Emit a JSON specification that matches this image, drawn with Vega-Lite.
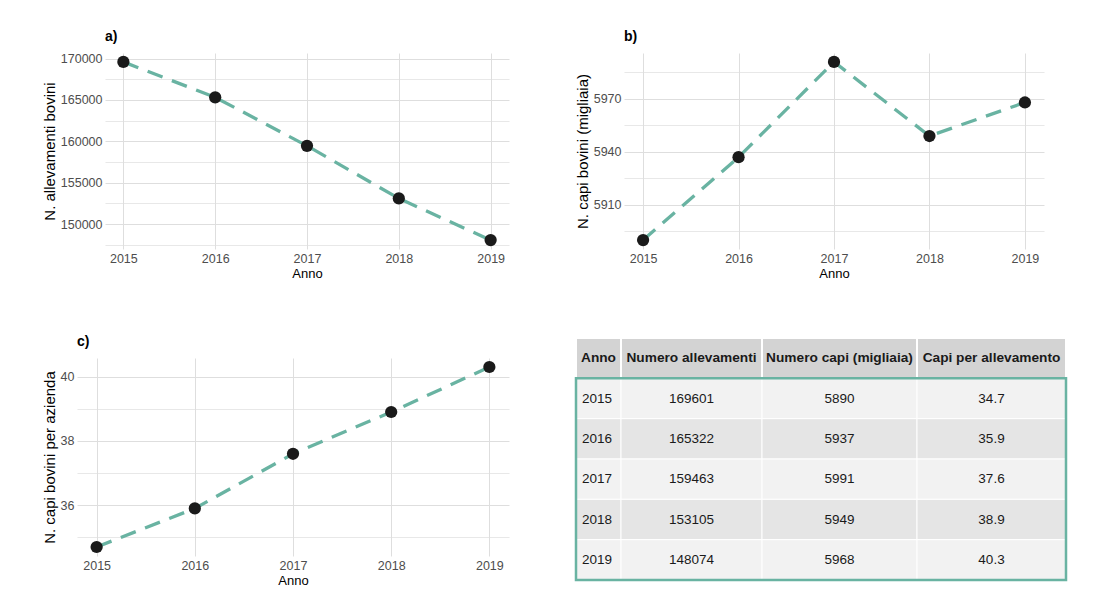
{
  "$schema": "https://vega.github.io/schema/vega-lite/v6.json",
  "background": "white",
  "padding": {"left": 42, "top": 29, "right": 5, "bottom": 5},
  "datasets": {
    "bovini": [
      {"Anno": 2015, "allevamenti": 169601, "capi": 5890, "capi_per_allevamento": 34.7},
      {"Anno": 2016, "allevamenti": 165322, "capi": 5937, "capi_per_allevamento": 35.9},
      {"Anno": 2017, "allevamenti": 159463, "capi": 5991, "capi_per_allevamento": 37.6},
      {"Anno": 2018, "allevamenti": 153105, "capi": 5949, "capi_per_allevamento": 38.9},
      {"Anno": 2019, "allevamenti": 148074, "capi": 5968, "capi_per_allevamento": 40.3}
    ]
  },
  "spacing": 54,
  "vconcat": [
    {
      "spacing": 66,
      "hconcat": [
        {
          "width": 432,
          "height": 196,
          "title": {"text": "a)", "dx": 28},
          "data": {"name": "bovini"},
          "encoding": {
            "x": {"field": "Anno", "type": "quantitative", "scale": {"domain": [2014.8, 2019.2], "range": [28, 432], "nice": false, "zero": false},
              "axis": {"title": "Anno", "values": [2015, 2015.5, 2016, 2016.5, 2017, 2017.5, 2018, 2018.5, 2019], "format": "d", "labelExpr": "datum.value % 1 === 0 ? datum.label : ''", "gridWidth": {"condition": {"test": "datum.value % 1 === 0", "value": 1}, "value": 0.7}}},
            "y": {"field": "allevamenti", "type": "quantitative", "scale": {"domain": [146998, 170677], "nice": false, "zero": false},
              "axis": {"title": "N. allevamenti bovini", "offset": -28, "values": [147500, 150000, 152500, 155000, 157500, 160000, 162500, 165000, 167500, 170000], "format": "d", "labelExpr": "datum.value % 5000 === 0 ? datum.label : ''", "gridWidth": {"condition": {"test": "datum.value % 5000 === 0", "value": 1}, "value": 0.7}}}
          },
          "layer": [
            {"mark": {"type": "line", "color": "#69b3a2", "strokeWidth": 3.3, "strokeDash": [16, 10]}},
            {"mark": {"type": "point", "filled": true, "color": "#1a1a1a", "size": 150, "opacity": 1}}
          ]
        },
        {
          "width": 420,
          "height": 196,
          "title": "b)",
          "data": {"name": "bovini"},
          "encoding": {
            "x": {"field": "Anno", "type": "quantitative", "scale": {"domain": [2014.8, 2019.2], "nice": false, "zero": false},
              "axis": {"title": "Anno", "values": [2015, 2015.5, 2016, 2016.5, 2017, 2017.5, 2018, 2018.5, 2019], "format": "d", "labelExpr": "datum.value % 1 === 0 ? datum.label : ''", "gridWidth": {"condition": {"test": "datum.value % 1 === 0", "value": 1}, "value": 0.7}}},
            "y": {"field": "capi", "type": "quantitative", "scale": {"domain": [5884.95, 5996.05], "nice": false, "zero": false},
              "axis": {"title": "N. capi bovini (migliaia)", "values": [5895, 5910, 5925, 5940, 5955, 5970, 5985], "format": "d", "labelExpr": "(datum.value - 5910) % 30 === 0 ? datum.label : ''", "gridWidth": {"condition": {"test": "(datum.value - 5910) % 30 === 0", "value": 1}, "value": 0.7}}}
          },
          "layer": [
            {"mark": {"type": "line", "color": "#69b3a2", "strokeWidth": 3.3, "strokeDash": [16, 10]}},
            {"mark": {"type": "point", "filled": true, "color": "#1a1a1a", "size": 150, "opacity": 1}}
          ]
        }
      ]
    },
    {
      "spacing": 65,
      "hconcat": [
        {
          "width": 432,
          "height": 198,
          "title": "c)",
          "data": {"name": "bovini"},
          "encoding": {
            "x": {"field": "Anno", "type": "quantitative", "scale": {"domain": [2014.8, 2019.2], "nice": false, "zero": false},
              "axis": {"title": "Anno", "values": [2015, 2015.5, 2016, 2016.5, 2017, 2017.5, 2018, 2018.5, 2019], "format": "d", "labelExpr": "datum.value % 1 === 0 ? datum.label : ''", "gridWidth": {"condition": {"test": "datum.value % 1 === 0", "value": 1}, "value": 0.7}}},
            "y": {"field": "capi_per_allevamento", "type": "quantitative", "scale": {"domain": [34.42, 40.58], "nice": false, "zero": false},
              "axis": {"title": "N. capi bovini per azienda", "values": [35, 36, 37, 38, 39, 40], "format": "d", "labelExpr": "datum.value % 2 === 0 ? datum.label : ''", "gridWidth": {"condition": {"test": "datum.value % 2 === 0", "value": 1}, "value": 0.7}}}
          },
          "layer": [
            {"mark": {"type": "line", "color": "#69b3a2", "strokeWidth": 3.3, "strokeDash": [16, 10]}},
            {"mark": {"type": "point", "filled": true, "color": "#1a1a1a", "size": 150, "opacity": 1}}
          ]
        },
        {
          "width": 490,
          "height": 222,
          "data": {"name": "bovini"},
          "layer": [
            {"transform": [{"filter": "datum.Anno === 2015"}], "mark": {"type": "rect", "fill": "#d3d3d3", "stroke": "white", "strokeWidth": 2},
              "encoding": {"x": {"datum": 0, "type": "quantitative", "scale": {"domain": [0, 1, 2, 3, 4], "range": [0, 45, 186, 341, 490], "nice": false, "zero": false}, "axis": null}, "x2": {"datum": 1},
                "y": {"datum": "header", "type": "ordinal", "scale": {"domain": ["header", 2015, 2016, 2017, 2018, 2019], "range": [-20, 222], "paddingInner": 0, "paddingOuter": 0}, "axis": null}}},
            {"transform": [{"filter": "datum.Anno === 2015"}], "mark": {"type": "rect", "fill": "#d3d3d3", "stroke": "white", "strokeWidth": 2},
              "encoding": {"x": {"datum": 1, "type": "quantitative", "axis": null}, "x2": {"datum": 2}, "y": {"datum": "header", "type": "ordinal", "axis": null}}},
            {"transform": [{"filter": "datum.Anno === 2015"}], "mark": {"type": "rect", "fill": "#d3d3d3", "stroke": "white", "strokeWidth": 2},
              "encoding": {"x": {"datum": 2, "type": "quantitative", "axis": null}, "x2": {"datum": 3}, "y": {"datum": "header", "type": "ordinal", "axis": null}}},
            {"transform": [{"filter": "datum.Anno === 2015"}], "mark": {"type": "rect", "fill": "#d3d3d3", "stroke": "white", "strokeWidth": 2},
              "encoding": {"x": {"datum": 3, "type": "quantitative", "axis": null}, "x2": {"datum": 4}, "y": {"datum": "header", "type": "ordinal", "axis": null}}},
            {"mark": {"type": "rect", "stroke": "white", "strokeWidth": 1},
              "encoding": {"x": {"datum": 0, "type": "quantitative", "axis": null}, "x2": {"datum": 1}, "y": {"field": "Anno", "type": "ordinal", "axis": null},
                "fill": {"condition": {"test": "datum.Anno % 2 === 1", "value": "#f2f2f2"}, "value": "#e5e5e5"}}},
            {"mark": {"type": "rect", "stroke": "white", "strokeWidth": 1},
              "encoding": {"x": {"datum": 1, "type": "quantitative", "axis": null}, "x2": {"datum": 2}, "y": {"field": "Anno", "type": "ordinal", "axis": null},
                "fill": {"condition": {"test": "datum.Anno % 2 === 1", "value": "#f2f2f2"}, "value": "#e5e5e5"}}},
            {"mark": {"type": "rect", "stroke": "white", "strokeWidth": 1},
              "encoding": {"x": {"datum": 2, "type": "quantitative", "axis": null}, "x2": {"datum": 3}, "y": {"field": "Anno", "type": "ordinal", "axis": null},
                "fill": {"condition": {"test": "datum.Anno % 2 === 1", "value": "#f2f2f2"}, "value": "#e5e5e5"}}},
            {"mark": {"type": "rect", "stroke": "white", "strokeWidth": 1},
              "encoding": {"x": {"datum": 3, "type": "quantitative", "axis": null}, "x2": {"datum": 4}, "y": {"field": "Anno", "type": "ordinal", "axis": null},
                "fill": {"condition": {"test": "datum.Anno % 2 === 1", "value": "#f2f2f2"}, "value": "#e5e5e5"}}},
            {"transform": [{"filter": "datum.Anno === 2015"}], "mark": {"type": "text", "text": "Anno", "align": "left", "dx": 5, "fontWeight": "bold", "fontSize": 13.7, "color": "#1a1a1a"},
              "encoding": {"x": {"datum": 0, "type": "quantitative", "axis": null}, "y": {"datum": "header", "type": "ordinal", "axis": null}}},
            {"transform": [{"filter": "datum.Anno === 2015"}], "mark": {"type": "text", "text": "Numero allevamenti", "align": "center", "fontWeight": "bold", "fontSize": 13.7, "color": "#1a1a1a"},
              "encoding": {"x": {"datum": 1.5, "type": "quantitative", "axis": null}, "y": {"datum": "header", "type": "ordinal", "axis": null}}},
            {"transform": [{"filter": "datum.Anno === 2015"}], "mark": {"type": "text", "text": "Numero capi (migliaia)", "align": "center", "fontWeight": "bold", "fontSize": 13.7, "color": "#1a1a1a"},
              "encoding": {"x": {"datum": 2.5, "type": "quantitative", "axis": null}, "y": {"datum": "header", "type": "ordinal", "axis": null}}},
            {"transform": [{"filter": "datum.Anno === 2015"}], "mark": {"type": "text", "text": "Capi per allevamento", "align": "center", "fontWeight": "bold", "fontSize": 13.7, "color": "#1a1a1a"},
              "encoding": {"x": {"datum": 3.5, "type": "quantitative", "axis": null}, "y": {"datum": "header", "type": "ordinal", "axis": null}}},
            {"mark": {"type": "text", "align": "left", "dx": 6, "fontSize": 13.5, "color": "#1a1a1a"},
              "encoding": {"x": {"datum": 0, "type": "quantitative", "axis": null}, "y": {"field": "Anno", "type": "ordinal", "axis": null}, "text": {"field": "Anno", "type": "ordinal"}}},
            {"mark": {"type": "text", "align": "center", "fontSize": 13.5, "color": "#1a1a1a"},
              "encoding": {"x": {"datum": 1.5, "type": "quantitative", "axis": null}, "y": {"field": "Anno", "type": "ordinal", "axis": null}, "text": {"field": "allevamenti", "type": "quantitative", "format": "d"}}},
            {"mark": {"type": "text", "align": "center", "fontSize": 13.5, "color": "#1a1a1a"},
              "encoding": {"x": {"datum": 2.5, "type": "quantitative", "axis": null}, "y": {"field": "Anno", "type": "ordinal", "axis": null}, "text": {"field": "capi", "type": "quantitative", "format": "d"}}},
            {"mark": {"type": "text", "align": "center", "fontSize": 13.5, "color": "#1a1a1a"},
              "encoding": {"x": {"datum": 3.5, "type": "quantitative", "axis": null}, "y": {"field": "Anno", "type": "ordinal", "axis": null}, "text": {"field": "capi_per_allevamento", "type": "quantitative", "format": ".1f"}}},
            {"transform": [{"filter": "datum.Anno === 2015"}], "mark": {"type": "rect", "fill": "white", "fillOpacity": 0, "stroke": "#69b3a2", "strokeWidth": 2.5},
              "encoding": {"x": {"datum": 0, "type": "quantitative", "axis": null}, "x2": {"datum": 4},
                "y": {"datum": 2015, "type": "ordinal", "bandPosition": 0, "axis": null}, "y2": {"datum": 2019, "bandPosition": 1}}}
          ]
        }
      ]
    }
  ],
  "config": {
    "font": "Liberation Sans",
    "view": {"stroke": null},
    "axis": {"domain": false, "ticks": false, "tickSize": 0, "labelFontSize": 12.5, "labelColor": "#4d4d4d", "labelPadding": 3, "labelOverlap": false, "labelFlush": false, "titleFontSize": 15, "titleFontWeight": "normal", "titleColor": "#000000", "titlePadding": 3, "gridColor": "#dedede"},
    "axisX": {"titleFontSize": 13},
    "title": {"fontSize": 14, "fontWeight": "bold", "anchor": "start", "frame": "group", "offset": 9, "color": "#000000"}
  }
}
